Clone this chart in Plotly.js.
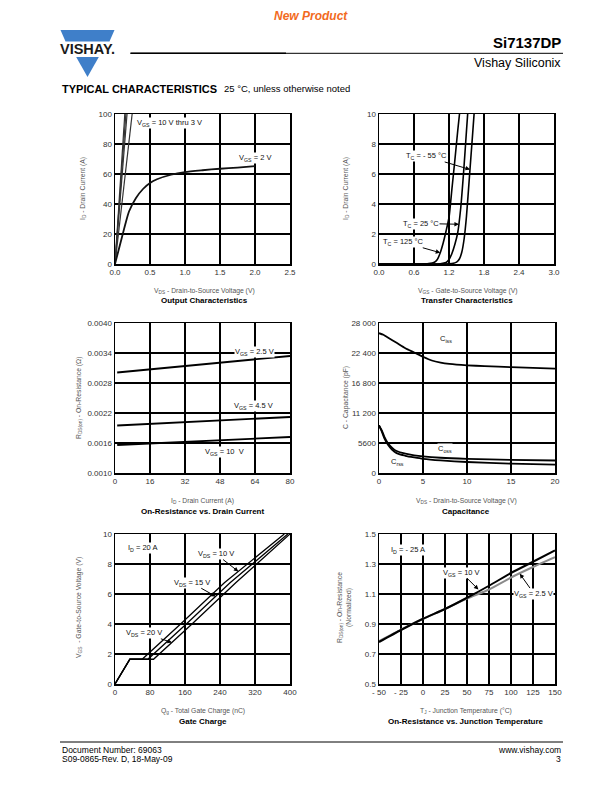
<!DOCTYPE html>
<html>
<head>
<meta charset="utf-8">
<script src="https://cdn.plot.ly/plotly-3.0.1.min.js"></script>
<style>html,body{margin:0;padding:0;background:#fff;}#page{width:612px;height:792px;}</style>
</head>
<body>
<div id="page"></div>
<script>
// ---------- DATA ----------
// Output characteristics: VGS = 10 V thru 3 V (steep lines) and VGS = 2 V
const outSteepAVds = [0, 0.07, 0.14];   const outSteepAId = [0, 50, 100];
const outSteepBVds = [0, 0.077, 0.155]; const outSteepBId = [0, 50, 100];
const outSteepCVds = [0, 0.086, 0.172]; const outSteepCId = [0, 50, 100];
const outSteepDVds = [0, 0.122, 0.245]; const outSteepDId = [0, 50, 100];
const outVgs2Vds = [0, 0.05, 0.1, 0.15, 0.2, 0.3, 0.4, 0.5, 0.6, 0.8, 1.0, 1.25, 1.5, 1.75, 2.0];
const outVgs2Id  = [0, 9, 18, 27, 35, 44, 50, 54, 56.5, 59.5, 61.3, 62.5, 63.5, 64.3, 65.2];

// Transfer characteristics
const trVgs125 = [0, 0.7, 0.85, 0.95, 1.0, 1.05, 1.1, 1.15, 1.2, 1.25, 1.3, 1.35, 1.38];
const trId125  = [0, 0, 0.03, 0.12, 0.3, 0.75, 1.4, 2.2, 3.1, 5.0, 6.9, 8.9, 10];
const trVgs25  = [0, 0.9, 1.05, 1.15, 1.2, 1.25, 1.3, 1.35, 1.4, 1.45, 1.5, 1.52];
const trId25   = [0, 0, 0.02, 0.1, 0.3, 0.7, 1.3, 2.1, 3.7, 6.1, 8.9, 10];
const trVgsM55 = [0, 1.1, 1.25, 1.33, 1.38, 1.42, 1.46, 1.5, 1.55, 1.6, 1.63];
const trIdM55  = [0, 0, 0.03, 0.12, 0.35, 0.8, 1.7, 3.2, 5.8, 8.4, 10];

// On-resistance vs drain current
const ronId    = [1, 16, 32, 48, 64, 80];
const ronVgs25 = [0.00301, 0.00307, 0.00314, 0.00320, 0.00327, 0.00334];
const ronVgs45 = [0.00195, 0.00198, 0.00202, 0.00205, 0.00209, 0.00212];
const ronVgs10 = [0.00156, 0.00159, 0.00162, 0.00165, 0.00169, 0.00172];

// Capacitance
const capVdsIss = [0, 0.5, 1, 2, 3, 4, 5, 6, 7, 8, 10, 12, 15, 20];
const capCiss   = [26100, 25800, 25300, 24300, 23300, 22500, 21700, 21000, 20600, 20350, 20100, 19950, 19750, 19500];
const capVds    = [0, 0.3, 0.6, 1, 1.5, 2, 3, 4, 5, 7, 10, 15, 20];
const capCoss   = [8900, 8000, 6800, 5600, 4700, 4100, 3600, 3300, 3100, 2850, 2650, 2450, 2330];
const capCrss   = [8900, 7800, 6500, 5300, 4300, 3700, 3200, 2900, 2650, 2350, 2050, 1750, 1580];

// Gate charge
const gcQ10 = [0, 34, 62, 150, 250, 387];  const gcV10 = [0, 1.65, 1.65, 4.0, 6.75, 10];
const gcQ15 = [0, 34, 75, 163, 263, 395];  const gcV15 = [0, 1.65, 1.65, 4.0, 6.75, 10];
const gcQ20 = [0, 34, 88, 176, 276, 400];  const gcV20 = [0, 1.65, 1.65, 4.0, 6.75, 10];

// On-resistance vs junction temperature
const tjTemp   = [-50, -25, 0, 25, 50, 75, 100, 125, 150];
const tjVgs10  = [0.78, 0.86, 0.935, 1.0, 1.075, 1.155, 1.24, 1.315, 1.39];
const tjVgs25  = [0.785, 0.862, 0.935, 1.0, 1.07, 1.13, 1.21, 1.28, 1.345];

// Tick values / labels
const t1x = [0, 0.5, 1.0, 1.5, 2.0, 2.5];     const t1xText = ['0.0','0.5','1.0','1.5','2.0','2.5'];
const t1y = [0, 20, 40, 60, 80, 100];
const t2x = [0, 0.6, 1.2, 1.8, 2.4, 3.0];     const t2xText = ['0.0','0.6','1.2','1.8','2.4','3.0'];
const t2y = [0, 2, 4, 6, 8, 10];
const t3x = [0, 16, 32, 48, 64, 80];
const t3y = [0.0010, 0.0016, 0.0022, 0.0028, 0.0034, 0.0040];
const t3yText = ['0.0010','0.0016','0.0022','0.0028','0.0034','0.0040'];
const t4x = [0, 5, 10, 15, 20];
const t4y = [0, 5600, 11200, 16800, 22400, 28000];
const t4yText = ['0','5600','11 200','16 800','22 400','28 000'];
const t5x = [0, 80, 160, 240, 320, 400];
const t5y = [0, 2, 4, 6, 8, 10];
const t6x = [-50, -25, 0, 25, 50, 75, 100, 125, 150];
const t6xText = ['- 50','- 25','0','25','50','75','100','125','150'];
const t6y = [0.5, 0.7, 0.9, 1.1, 1.3, 1.5];
const t6yText = ['0.5','0.7','0.9','1.1','1.3','1.5'];

// ---------- LAYOUT HELPERS ----------
const W = 612, H = 792;
const FONT = 'Liberation Sans, Arial, Helvetica, sans-serif';
const X = px => px / W;
const Y = py => 1 - py / H;
const colL = [X(115), X(290)], colR = [X(379), X(555)], colR5 = [X(379), X(554)];
const row1 = [Y(264), Y(114)], row2 = [Y(473), Y(323)], row3 = [Y(684), Y(534)];

function axis(domain, ticks, ticktext, anchor) {
  const a = {
    domain: domain, range: [ticks[0], ticks[ticks.length - 1]], anchor: anchor,
    tickmode: 'array', tickvals: ticks,
    showgrid: true, gridcolor: '#000', gridwidth: 1.5,
    zeroline: false, showline: true, linecolor: '#000', linewidth: 1.5, mirror: true,
    ticks: '', tickfont: {family: FONT, size: 8, color: '#333'},
    fixedrange: true
  };
  if (ticktext) a.ticktext = ticktext;
  return a;
}

function ln(x, y, xa, ya, color, width, smooth) {
  return {x: x, y: y, xaxis: xa, yaxis: ya, type: 'scatter', mode: 'lines',
    line: {color: color, width: width, shape: smooth ? 'spline' : 'linear', smoothing: 0.6},
    hoverinfo: 'skip', showlegend: false, connectgaps: false};
}

// extra grid lines as line traces at the tick values (through the axes' scales)
function gridTrace(xa, ya, xvals, yvals) {
  const gx = [], gy = [];
  const x0 = xvals[0], x1 = xvals[xvals.length - 1], y0 = yvals[0], y1 = yvals[yvals.length - 1];
  xvals.slice(1, -1).forEach(v => { gx.push(v, v, null); gy.push(y0, y1, null); });
  yvals.slice(1, -1).forEach(v => { gx.push(x0, x1, null); gy.push(v, v, null); });
  return ln(gx, gy, xa, ya, '#000', 1.3);
}

const traces = [
  gridTrace('x', 'y', t1x, t1y),
  gridTrace('x2', 'y2', t2x, t2y),
  gridTrace('x3', 'y3', t3x, t3y),
  gridTrace('x4', 'y4', t4x, t4y),
  gridTrace('x5', 'y5', t5x, t5y),
  gridTrace('x6', 'y6', t6x, t6y),
  ln(outSteepAVds, outSteepAId, 'x', 'y', '#333', 1.2),
  ln(outSteepBVds, outSteepBId, 'x', 'y', '#333', 1.2),
  ln(outSteepCVds, outSteepCId, 'x', 'y', '#333', 1.2),
  ln(outSteepDVds, outSteepDId, 'x', 'y', '#333', 1.2),
  ln(outVgs2Vds, outVgs2Id, 'x', 'y', '#111', 1.8, true),
  ln(trVgs125, trId125, 'x2', 'y2', '#000', 1.6, true),
  ln(trVgs25, trId25, 'x2', 'y2', '#000', 1.6, true),
  ln(trVgsM55, trIdM55, 'x2', 'y2', '#000', 1.6, true),
  ln(ronId, ronVgs25, 'x3', 'y3', '#000', 1.8),
  ln(ronId, ronVgs45, 'x3', 'y3', '#000', 1.8),
  ln(ronId, ronVgs10, 'x3', 'y3', '#000', 1.8),
  ln(capVdsIss, capCiss, 'x4', 'y4', '#000', 1.8, true),
  ln(capVds, capCoss, 'x4', 'y4', '#000', 1.8, true),
  ln(capVds, capCrss, 'x4', 'y4', '#000', 1.8, true),
  ln(gcQ10, gcV10, 'x5', 'y5', '#000', 1.3),
  ln(gcQ15, gcV15, 'x5', 'y5', '#000', 1.3),
  ln(gcQ20, gcV20, 'x5', 'y5', '#000', 1.3),
  ln(tjTemp, tjVgs25, 'x6', 'y6', '#8a8a8a', 2, true),
  ln(tjTemp, tjVgs10, 'x6', 'y6', '#000', 2, true)
];

const ann = [];
function pt(text, px, py, size, opts) {
  ann.push(Object.assign({text: text, xref: 'paper', yref: 'paper', x: X(px), y: Y(py),
    showarrow: false, font: {family: FONT, size: size, color: '#000'},
    xanchor: 'center', yanchor: 'middle'}, opts || {}));
}
function lab(text, xa, ya, x, y, xanchor) {
  ann.push({text: text, xref: xa, yref: ya, x: x, y: y, showarrow: false,
    font: {family: FONT, size: 7.5, color: '#111'}, xanchor: xanchor || 'left', yanchor: 'middle',
    bgcolor: '#fff', borderpad: 0});
}
function arr(text, xa, ya, x, y, tx, ty) {
  ann.push({text: text, xref: xa, yref: ya, x: x, y: y, axref: xa, ayref: ya, ax: tx, ay: ty,
    showarrow: true, arrowhead: 2, arrowsize: 0.9, arrowwidth: 1, arrowcolor: '#000', standoff: 0,
    font: {family: FONT, size: 7.5, color: '#111'}, xanchor: 'center', yanchor: 'middle',
    bgcolor: '#fff', borderpad: 0});
}

// Header / footer
pt('<b><i>New Product</i></b>', 311, 16, 12, {font: {family: FONT, size: 12, color: '#F26A21'}});
pt('<b>Si7137DP</b>', 563, 43, 15, {xanchor: 'right'});
pt('Vishay Siliconix', 563, 63, 12.5, {xanchor: 'right'});
pt('<b>VISHAY.</b>', 87, 49, 14.5, {font: {family: FONT, size: 14.5, color: '#1a1a1a'}});
pt('<b>TYPICAL CHARACTERISTICS</b>', 60, 89, 11, {xanchor: 'left'});
pt('25 °C, unless otherwise noted', 222, 89, 9.5, {xanchor: 'left'});
pt('Document Number: 69063', 60, 750, 8.5, {xanchor: 'left'});
pt('S09-0865-Rev. D, 18-May-09', 60, 759, 8.5, {xanchor: 'left'});
pt('www.vishay.com', 563, 750, 8.5, {xanchor: 'right'});
pt('3', 563, 759, 8.5, {xanchor: 'right'});

// Axis titles and chart captions
const axT = {font: {family: FONT, size: 6.8, color: '#555'}};
const yT = Object.assign({textangle: -90}, axT);
pt('V<sub>DS</sub> - Drain-to-Source Voltage (V)', 205, 290.5, 6.8, axT);
pt('<b>Output Characteristics</b>', 205, 301, 8);
pt('I<sub>D</sub> - Drain Current (A)', 83, 189, 6.8, yT);
pt('V<sub>GS</sub> - Gate-to-Source Voltage (V)', 467, 290.5, 6.8, axT);
pt('<b>Transfer Characteristics</b>', 467, 301, 8);
pt('I<sub>D</sub> - Drain Current (A)', 346, 189, 6.8, yT);
pt('I<sub>D</sub> - Drain Current (A)', 202, 500.5, 6.8, axT);
pt('<b>On-Resistance vs. Drain Current</b>', 202, 511, 8);
pt('R<sub>DS(on)</sub> - On-Resistance (Ω)', 79, 398, 6.8, yT);
pt('V<sub>DS</sub> - Drain-to-Source Voltage (V)', 466, 500.5, 6.8, axT);
pt('<b>Capacitance</b>', 466, 511, 8);
pt('C - Capacitance (pF)', 346, 398, 6.8, yT);
pt('Q<sub>g</sub> - Total Gate Charge (nC)', 203, 710.5, 6.8, axT);
pt('<b>Gate Charge</b>', 203, 721.5, 8);
pt('V<sub>GS</sub>  - Gate-to-Source Voltage (V)', 79, 608, 6.8, yT);
pt('T<sub>J</sub> - Junction Temperature (°C)', 466, 710.5, 6.8, axT);
pt('<b>On-Resistance vs. Junction Temperature</b>', 466, 721.5, 8);
pt('R<sub>DS(on)</sub> - On-Resistance<br>(Normalized)', 344, 608, 6.8, yT);

// In-plot labels
lab('V<sub>GS</sub> = 10 V thru 3 V', 'x', 'y', 0.30, 94);
lab('V<sub>GS</sub> = 2 V', 'x', 'y', 1.76, 70.5);
arr('T<sub>C</sub> = - 55 °C', 'x2', 'y2', 1.56, 6.3, 0.81, 7.17);
arr('T<sub>C</sub> = 25 °C', 'x2', 'y2', 1.37, 2.65, 0.72, 2.7);
arr('T<sub>C</sub> = 125 °C', 'x2', 'y2', 1.05, 0.75, 0.42, 1.45);
lab('V<sub>GS</sub> = 2.5 V', 'x3', 'y3', 54.6, 0.003425);
lab('V<sub>GS</sub> = 4.5 V', 'x3', 'y3', 54.1, 0.002345);
lab('V<sub>GS</sub> = 10  V', 'x3', 'y3', 40.7, 0.00143);
lab('C<sub>iss</sub>', 'x4', 'y4', 7.6, 25000, 'center');
lab('C<sub>oss</sub>', 'x4', 'y4', 7.5, 4400, 'center');
lab('C<sub>rss</sub>', 'x4', 'y4', 2.1, 2100, 'center');
lab('I<sub>D</sub> = 20 A', 'x5', 'y5', 27.6, 9.05);
arr('V<sub>DS</sub> = 10 V', 'x5', 'y5', 282, 7.5, 231, 8.66);
arr('V<sub>DS</sub> = 15 V', 'x5', 'y5', 230, 5.84, 175, 6.75);
arr('V<sub>DS</sub> = 20 V', 'x5', 'y5', 130, 2.77, 67, 3.38);
lab('I<sub>D</sub> = - 25 A', 'x6', 'y6', -37.4, 1.394);
arr('V<sub>GS</sub> = 10 V', 'x6', 'y6', 63, 1.13, 43.7, 1.242);
arr('V<sub>GS</sub> = 2.5 V', 'x6', 'y6', 110, 1.235, 126, 1.103);

// Shapes: logo and rules
function path(pts) {
  return 'M ' + pts.map(p => X(p[0]) + ',' + Y(p[1])).join(' L ') + ' Z';
}
const shapes = [
  {type: 'path', xref: 'paper', yref: 'paper', path: path([[60.5, 30], [114.5, 30], [109.5, 41.5], [65.5, 41.5]]),
    fillcolor: '#3F7FC9', line: {width: 0}},
  {type: 'path', xref: 'paper', yref: 'paper', path: path([[76.2, 57], [98.8, 57], [87.5, 77]]),
    fillcolor: '#3F7FC9', line: {width: 0}},
  {type: 'line', xref: 'paper', yref: 'paper', x0: X(130.5), x1: X(563), y0: Y(53.3), y1: Y(53.3),
    line: {color: '#000', width: 1}},
  {type: 'line', xref: 'paper', yref: 'paper', x0: X(130.5), x1: X(286), y0: Y(53.3), y1: Y(53.3),
    line: {color: '#000', width: 1.6}},
  {type: 'line', xref: 'paper', yref: 'paper', x0: X(60), x1: X(563), y0: Y(742), y1: Y(742),
    line: {color: '#000', width: 1}}
];

const layout = {
  width: W, height: H, margin: {l: 0, r: 0, t: 0, b: 0, pad: 0},
  paper_bgcolor: '#fff', plot_bgcolor: 'rgba(0,0,0,0)', showlegend: false,
  font: {family: FONT, color: '#000'},
  xaxis:  axis(colL, t1x, t1xText, 'y'),
  yaxis:  axis(row1, t1y, null, 'x'),
  xaxis2: axis(colR5, t2x, t2xText, 'y2'),
  yaxis2: axis(row1, t2y, null, 'x2'),
  xaxis3: axis(colL, t3x, null, 'y3'),
  yaxis3: axis(row2, t3y, t3yText, 'x3'),
  xaxis4: axis(colR, t4x, null, 'y4'),
  yaxis4: axis(row2, t4y, t4yText, 'x4'),
  xaxis5: axis(colL, t5x, null, 'y5'),
  yaxis5: axis(row3, t5y, null, 'x5'),
  xaxis6: axis(colR, t6x, t6xText, 'y6'),
  yaxis6: axis(row3, t6y, t6yText, 'x6'),
  annotations: ann,
  shapes: shapes
};

Plotly.newPlot('page', traces, layout, {staticPlot: true, displayModeBar: false});
</script>
</body>
</html>
